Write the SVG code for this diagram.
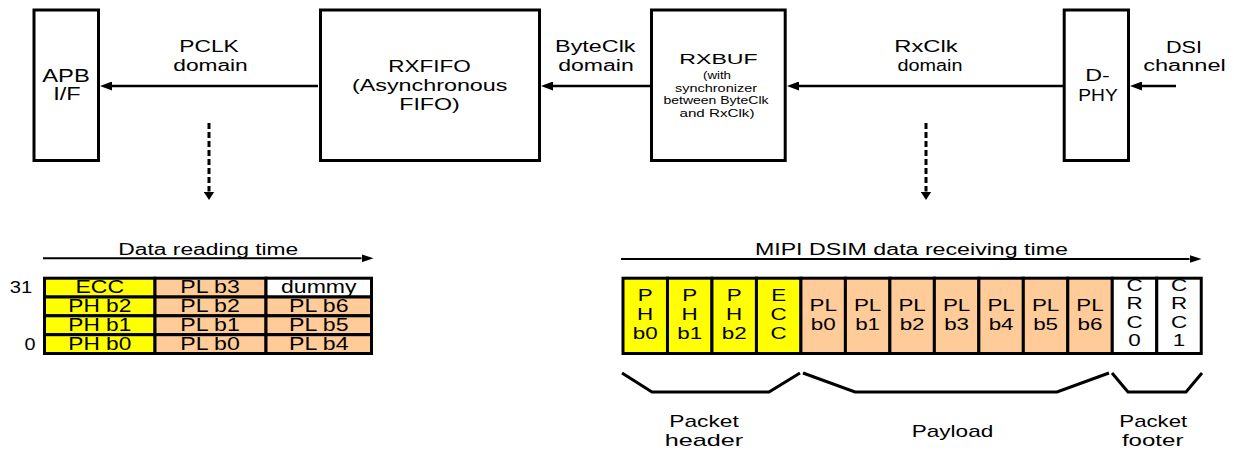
<svg xmlns="http://www.w3.org/2000/svg" width="1234" height="451" viewBox="0 0 1234 451">
<style>
text{font-family:"Liberation Sans",Arial,Helvetica,sans-serif;fill:#000;text-anchor:middle}
.box{fill:#fff;stroke:#000;stroke-width:3}
.conn{fill:none;stroke:#000;stroke-width:2.5}
.tconn{fill:none;stroke:#000;stroke-width:2}
.dash{fill:none;stroke:#000;stroke-width:3;stroke-dasharray:6 3}
.br{fill:none;stroke:#000;stroke-width:3;stroke-linejoin:miter}
.y{fill:#ffff00;stroke:#000;stroke-width:3}
.p{fill:#ffcc99;stroke:#000;stroke-width:3}
.w{fill:#fff;stroke:#000;stroke-width:3}
.f16{font-size:16px}
.f18{font-size:18px}
.f17{font-size:17px}
.fs{font-size:10.5px}
</style>
<defs>
<marker id="ah" markerUnits="userSpaceOnUse" viewBox="0 0 12 9" markerWidth="12" markerHeight="9" refX="0" refY="4.5" orient="auto"><path d="M0,0 L12,4.5 L0,9 z" fill="#000"/></marker>
<marker id="ahs" markerUnits="userSpaceOnUse" viewBox="0 0 12 8" markerWidth="12" markerHeight="8" refX="0" refY="4" orient="auto"><path d="M0,0 L12,4 L0,8 z" fill="#000"/></marker>
<marker id="ahd" markerUnits="userSpaceOnUse" viewBox="0 0 8.5 11" markerWidth="8.5" markerHeight="11" refX="0" refY="5.5" orient="auto"><path d="M0,0 L8.5,5.5 L0,11 z" fill="#000"/></marker>
</defs>

<g id="connectors">
<path class="conn" d="M318,86 H112" marker-end="url(#ah)"/>
<path class="conn" d="M650,86 H553" marker-end="url(#ah)"/>
<path class="conn" d="M1063,86 H799" marker-end="url(#ah)"/>
<path class="conn" d="M1176,86 H1142" marker-end="url(#ah)"/>
<path class="dash" d="M209,123 V191.5" marker-end="url(#ahd)"/>
<path class="dash" d="M926,123 V191.5" marker-end="url(#ahd)"/>
<text class="f16" x="209" y="52" textLength="59.5" lengthAdjust="spacingAndGlyphs">PCLK</text>
<text class="f16" x="210.5" y="71" textLength="74.5" lengthAdjust="spacingAndGlyphs">domain</text>
<text class="f16" x="595.3" y="52" textLength="80.5" lengthAdjust="spacingAndGlyphs">ByteClk</text>
<text class="f16" x="596" y="71" textLength="75.5" lengthAdjust="spacingAndGlyphs">domain</text>
<text class="f16" x="926" y="52" textLength="63.5" lengthAdjust="spacingAndGlyphs">RxClk</text>
<text class="f16" x="930" y="71" textLength="65" lengthAdjust="spacingAndGlyphs">domain</text>
<text class="f16" x="1184" y="53" textLength="36" lengthAdjust="spacingAndGlyphs">DSI</text>
<text class="f16" x="1184.5" y="71" textLength="82.5" lengthAdjust="spacingAndGlyphs">channel</text>
</g>

<g id="apb">
<rect class="box" x="34" y="10" width="64.5" height="150.5"/>
<text class="f18" x="66" y="82" textLength="47.5" lengthAdjust="spacingAndGlyphs">APB</text>
<text class="f18" x="67" y="100" textLength="27.5" lengthAdjust="spacingAndGlyphs">I/F</text>
</g>

<g id="rxfifo">
<rect class="box" x="320.5" y="10" width="219" height="150.5"/>
<text class="f16" x="429.5" y="71.5" textLength="82.5" lengthAdjust="spacingAndGlyphs">RXFIFO</text>
<text class="f16" x="429.7" y="91" textLength="155.5" lengthAdjust="spacingAndGlyphs">(Asynchronous</text>
<text class="f16" x="429.5" y="110" textLength="60.5" lengthAdjust="spacingAndGlyphs">FIFO)</text>
</g>

<g id="rxbuf">
<rect class="box" x="651.5" y="10" width="133.7" height="150.5"/>
<text x="718.5" y="63.5" style="font-size:15.5px" textLength="78.5" lengthAdjust="spacingAndGlyphs">RXBUF</text>
<text class="fs" x="717" y="79" textLength="28" lengthAdjust="spacingAndGlyphs">(with</text>
<text class="fs" x="716" y="91.5" textLength="82" lengthAdjust="spacingAndGlyphs">synchronizer</text>
<text class="fs" x="716" y="104.3" textLength="105" lengthAdjust="spacingAndGlyphs">between ByteClk</text>
<text class="fs" x="717" y="117.3" textLength="75" lengthAdjust="spacingAndGlyphs">and RxClk)</text>
</g>

<g id="dphy">
<rect class="box" x="1064.2" y="10" width="64.3" height="150.5"/>
<text class="f16" x="1097.5" y="81" textLength="24.5" lengthAdjust="spacingAndGlyphs">D-</text>
<text class="f16" x="1098" y="100.5" textLength="39.5" lengthAdjust="spacingAndGlyphs">PHY</text>
</g>

<g id="data-reading">
<path class="tconn" d="M43,258.3 H361.5" marker-end="url(#ahs)"/>
<text class="f16" x="208.3" y="255" textLength="180" lengthAdjust="spacingAndGlyphs">Data reading time</text>
<text class="f17" x="21" y="293.3" textLength="22.5" lengthAdjust="spacingAndGlyphs">31</text>
<text class="f17" x="30" y="350" textLength="11" lengthAdjust="spacingAndGlyphs">0</text>
<rect class="y" x="44.5" y="278.2" width="110.5" height="18.8"/>
<rect class="p" x="155" y="278.2" width="111" height="18.8"/>
<rect class="w" x="266" y="278.2" width="105.5" height="18.8"/>
<rect class="y" x="44.5" y="297" width="110.5" height="18.8"/>
<rect class="p" x="155" y="297" width="111" height="18.8"/>
<rect class="p" x="266" y="297" width="105.5" height="18.8"/>
<rect class="y" x="44.5" y="315.8" width="110.5" height="18.9"/>
<rect class="p" x="155" y="315.8" width="111" height="18.9"/>
<rect class="p" x="266" y="315.8" width="105.5" height="18.9"/>
<rect class="y" x="44.5" y="334.7" width="110.5" height="18.8"/>
<rect class="p" x="155" y="334.7" width="111" height="18.8"/>
<rect class="p" x="266" y="334.7" width="105.5" height="18.8"/>
<text class="f18" x="99.8" y="293.3" textLength="48.5" lengthAdjust="spacingAndGlyphs">ECC</text>
<text class="f18" x="210" y="293.3" textLength="59.5" lengthAdjust="spacingAndGlyphs">PL b3</text>
<text class="f18" x="318.8" y="293.3" textLength="75.5" lengthAdjust="spacingAndGlyphs">dummy</text>
<text class="f18" x="99.8" y="312.3" textLength="63" lengthAdjust="spacingAndGlyphs">PH b2</text>
<text class="f18" x="210" y="312.3" textLength="59.5" lengthAdjust="spacingAndGlyphs">PL b2</text>
<text class="f18" x="318.8" y="312.3" textLength="59.5" lengthAdjust="spacingAndGlyphs">PL b6</text>
<text class="f18" x="99.8" y="331" textLength="63" lengthAdjust="spacingAndGlyphs">PH b1</text>
<text class="f18" x="210" y="331" textLength="59.5" lengthAdjust="spacingAndGlyphs">PL b1</text>
<text class="f18" x="318.8" y="331" textLength="59.5" lengthAdjust="spacingAndGlyphs">PL b5</text>
<text class="f18" x="99.8" y="350" textLength="63" lengthAdjust="spacingAndGlyphs">PH b0</text>
<text class="f18" x="210" y="350" textLength="59.5" lengthAdjust="spacingAndGlyphs">PL b0</text>
<text class="f18" x="318.8" y="350" textLength="59.5" lengthAdjust="spacingAndGlyphs">PL b4</text>
</g>

<g id="data-receiving">
<path class="tconn" d="M621,259 H1189.5" marker-end="url(#ahs)"/>
<text class="f16" x="911.4" y="255" textLength="313" lengthAdjust="spacingAndGlyphs">MIPI DSIM data receiving time</text>
<rect class="y" x="623" y="278.2" width="44.48" height="75.3"/>
<rect class="y" x="667.48" y="278.2" width="44.48" height="75.3"/>
<rect class="y" x="711.96" y="278.2" width="44.48" height="75.3"/>
<rect class="y" x="756.44" y="278.2" width="44.48" height="75.3"/>
<rect class="p" x="800.92" y="278.2" width="44.48" height="75.3"/>
<rect class="p" x="845.4" y="278.2" width="44.48" height="75.3"/>
<rect class="p" x="889.88" y="278.2" width="44.48" height="75.3"/>
<rect class="p" x="934.36" y="278.2" width="44.48" height="75.3"/>
<rect class="p" x="978.84" y="278.2" width="44.48" height="75.3"/>
<rect class="p" x="1023.32" y="278.2" width="44.48" height="75.3"/>
<rect class="p" x="1067.8" y="278.2" width="44.48" height="75.3"/>
<rect class="w" x="1112.28" y="278.2" width="44.48" height="75.3"/>
<rect class="w" x="1156.76" y="278.2" width="44.48" height="75.3"/>
<text class="f16" transform="translate(645.2,301) scale(1.4,1)"><tspan x="0">P</tspan><tspan x="0" dy="19">H</tspan><tspan x="0" dy="19">b0</tspan></text>
<text class="f16" transform="translate(689.7,301) scale(1.4,1)"><tspan x="0">P</tspan><tspan x="0" dy="19">H</tspan><tspan x="0" dy="19">b1</tspan></text>
<text class="f16" transform="translate(734.2,301) scale(1.4,1)"><tspan x="0">P</tspan><tspan x="0" dy="19">H</tspan><tspan x="0" dy="19">b2</tspan></text>
<text class="f16" transform="translate(778.7,301) scale(1.4,1)"><tspan x="0">E</tspan><tspan x="0" dy="19">C</tspan><tspan x="0" dy="19">C</tspan></text>
<text class="f16" transform="translate(823.2,311) scale(1.4,1)"><tspan x="0">PL</tspan><tspan x="0" dy="19">b0</tspan></text>
<text class="f16" transform="translate(867.6,311) scale(1.4,1)"><tspan x="0">PL</tspan><tspan x="0" dy="19">b1</tspan></text>
<text class="f16" transform="translate(912.1,311) scale(1.4,1)"><tspan x="0">PL</tspan><tspan x="0" dy="19">b2</tspan></text>
<text class="f16" transform="translate(956.6,311) scale(1.4,1)"><tspan x="0">PL</tspan><tspan x="0" dy="19">b3</tspan></text>
<text class="f16" transform="translate(1001.1,311) scale(1.4,1)"><tspan x="0">PL</tspan><tspan x="0" dy="19">b4</tspan></text>
<text class="f16" transform="translate(1045.6,311) scale(1.4,1)"><tspan x="0">PL</tspan><tspan x="0" dy="19">b5</tspan></text>
<text class="f16" transform="translate(1090,311) scale(1.4,1)"><tspan x="0">PL</tspan><tspan x="0" dy="19">b6</tspan></text>
<text class="f16" transform="translate(1134.5,291) scale(1.4,1)"><tspan x="0">C</tspan><tspan x="0" dy="18.5">R</tspan><tspan x="0" dy="18.5">C</tspan><tspan x="0" dy="18.5">0</tspan></text>
<text class="f16" transform="translate(1179,291) scale(1.4,1)"><tspan x="0">C</tspan><tspan x="0" dy="18.5">R</tspan><tspan x="0" dy="18.5">C</tspan><tspan x="0" dy="18.5">1</tspan></text>
</g>

<g id="packet-header">
<polyline class="br" points="622,373 652,392 769,392 800,373"/>
<text class="f17" x="704" y="426.7" textLength="69.5" lengthAdjust="spacingAndGlyphs">Packet</text>
<text class="f17" x="704" y="446" textLength="78.5" lengthAdjust="spacingAndGlyphs">header</text>
</g>
<g id="payload">
<polyline class="br" points="803,373 855,392 1057,392 1109,373"/>
<text class="f17" x="952.5" y="436.5" textLength="81.5" lengthAdjust="spacingAndGlyphs">Payload</text>
</g>
<g id="packet-footer">
<polyline class="br" points="1112,373 1128,392 1186,392 1202,373"/>
<text class="f17" x="1153.3" y="426.7" textLength="68" lengthAdjust="spacingAndGlyphs">Packet</text>
<text class="f17" x="1152.7" y="446" textLength="61.5" lengthAdjust="spacingAndGlyphs">footer</text>
</g>
</svg>
